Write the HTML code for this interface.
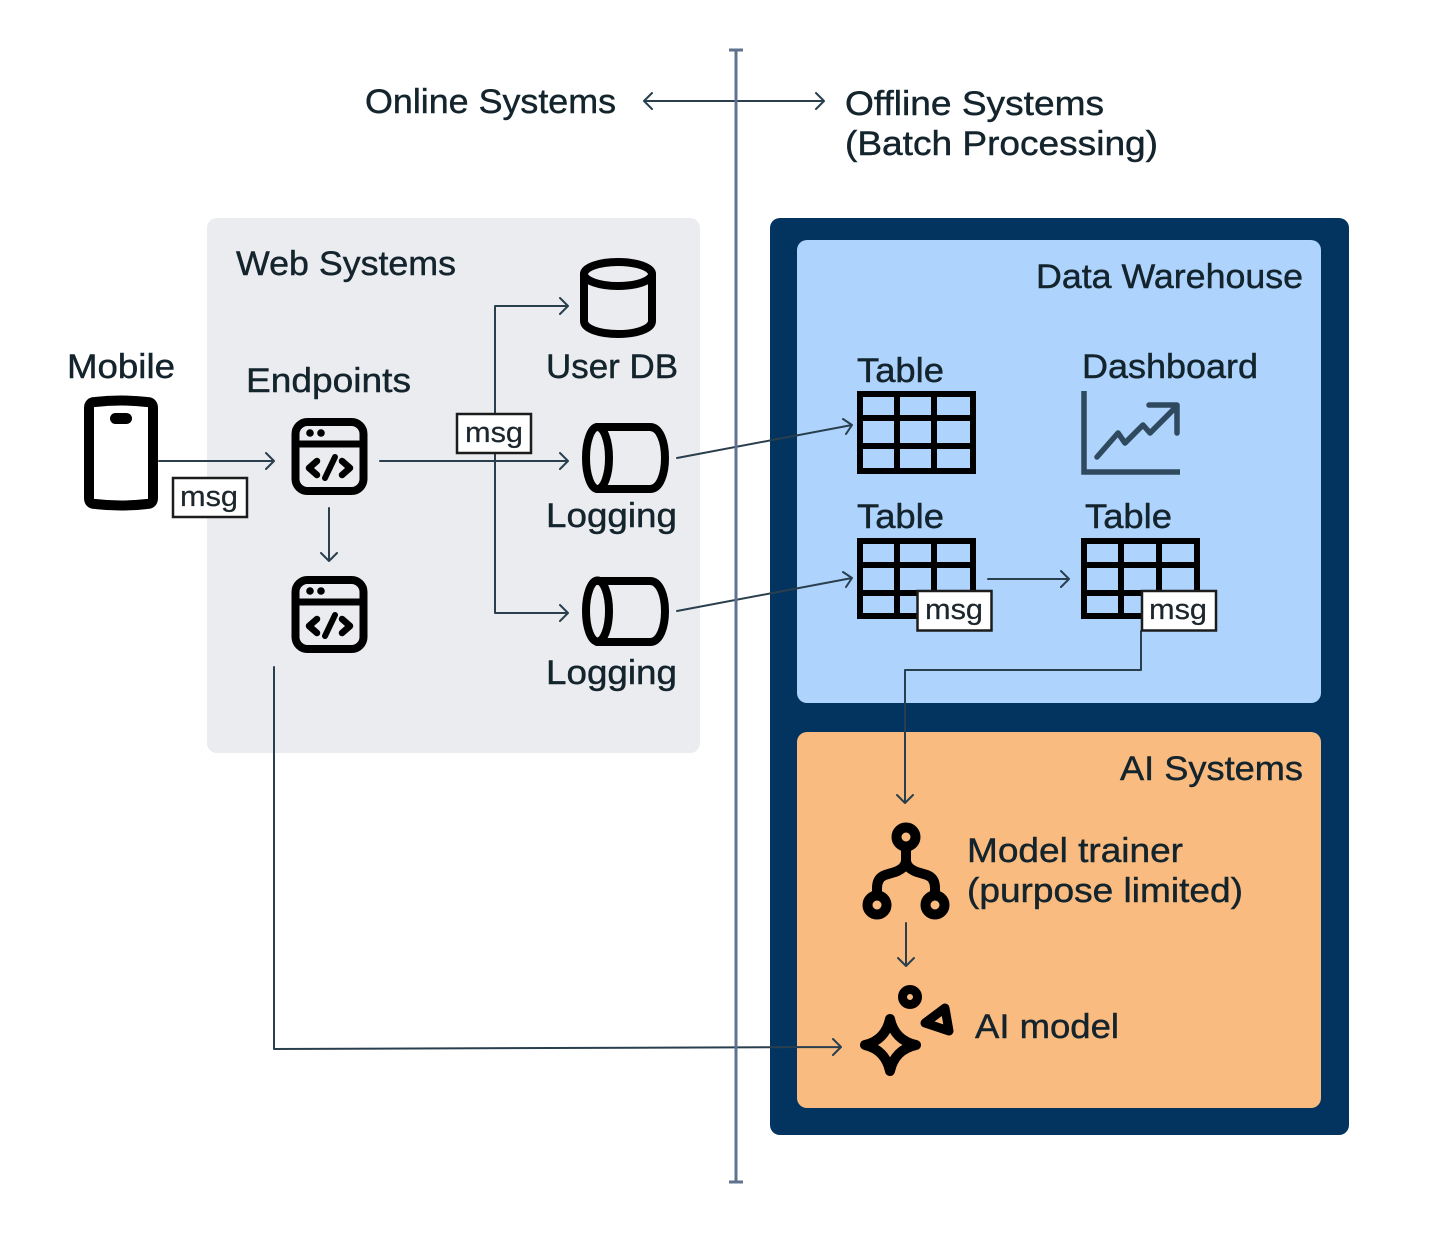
<!DOCTYPE html>
<html lang="en"><head><meta charset="utf-8"><title>Online and offline systems</title>
<style>
html,body{margin:0;padding:0;background:#fff}
svg{display:block}
text{font-family:"Liberation Sans",sans-serif;font-size:34px;fill:#14242d;stroke:#14242d;stroke-width:.45px}
.c{fill:none;stroke:#2a3f4e;stroke-width:2;stroke-linecap:round;stroke-linejoin:round}
.i{fill:none;stroke:#000;stroke-width:9;stroke-linejoin:round;stroke-linecap:round}
.g{fill:none;stroke:#000;stroke-width:6}
.m{fill:#fff;stroke:#1c1c1c;stroke-width:2.5}
.t{font-size:29px;fill:#1c262c;stroke:#1c262c;stroke-width:.25px}
</style></head><body>
<svg width="1456" height="1235" viewBox="0 0 1456 1235" xmlns="http://www.w3.org/2000/svg">
<rect width="1456" height="1235" fill="#fff"/>
<rect x="207" y="218" width="493" height="535" rx="10" fill="#ebecef"/>
<rect x="770" y="218" width="579" height="917" rx="10" fill="#03335f"/>
<rect x="797" y="240" width="524" height="463" rx="10" fill="#aed3fd"/>
<rect x="797" y="732" width="524" height="376" rx="10" fill="#f9bb80"/>

<text x="365" y="113" textLength="251" lengthAdjust="spacingAndGlyphs">Online Systems</text>
<text x="845" y="115" textLength="259" lengthAdjust="spacingAndGlyphs">Offline Systems</text>
<text x="845" y="155" textLength="313" lengthAdjust="spacingAndGlyphs">(Batch Processing)</text>
<text x="236" y="275" textLength="220" lengthAdjust="spacingAndGlyphs">Web Systems</text>
<text x="67" y="378" textLength="108" lengthAdjust="spacingAndGlyphs">Mobile</text>
<text x="246" y="392" textLength="165" lengthAdjust="spacingAndGlyphs">Endpoints</text>
<text x="546" y="378" textLength="132" lengthAdjust="spacingAndGlyphs">User DB</text>
<text x="546" y="527" textLength="131" lengthAdjust="spacingAndGlyphs">Logging</text>
<text x="546" y="684" textLength="131" lengthAdjust="spacingAndGlyphs">Logging</text>
<text x="1036" y="288" textLength="267" lengthAdjust="spacingAndGlyphs">Data Warehouse</text>
<text x="857" y="382" textLength="87" lengthAdjust="spacingAndGlyphs">Table</text>
<text x="1082" y="378" textLength="176" lengthAdjust="spacingAndGlyphs">Dashboard</text>
<text x="857" y="528" textLength="87" lengthAdjust="spacingAndGlyphs">Table</text>
<text x="1085" y="528" textLength="87" lengthAdjust="spacingAndGlyphs">Table</text>
<text x="1120" y="780" textLength="183" lengthAdjust="spacingAndGlyphs">AI Systems</text>
<text x="967" y="862" textLength="216" lengthAdjust="spacingAndGlyphs">Model trainer</text>
<text x="967" y="902" textLength="276" lengthAdjust="spacingAndGlyphs">(purpose limited)</text>
<text x="975" y="1038" textLength="144" lengthAdjust="spacingAndGlyphs">AI model</text>

<!-- connectors -->
<g class="c">
<path d="M644 101H824M652 93l-8 8 8 8M816 93l8 8-8 8"/>
<path d="M159 461H274M266 453l8 8-8 8"/>
<path d="M329 508V561M321 553l8 8 8-8"/>
<path d="M380 461H568M560 453l8 8-8 8"/>
<path d="M495 413V306H568M560 298l8 8-8 8"/>
<path d="M495 454V613H568M560 605l8 8-8 8"/>
<path d="M677 458L852 425M843 419l9 6-6 9"/>
<path d="M677 611L852 578M843 572l9 6-6 9"/>
<path d="M988 579H1069M1061 571l8 8-8 8"/>
<path d="M1141 631V670H905V803M897 795l8 8 8-8"/>
<path d="M906 923V966M898 958l8 8 8-8"/>
<path d="M274 667V1049L841 1047M833 1039l8 8-8 8"/>
</g>
<path d="M736 50V1182M729 50H743M729 1182H743" fill="none" stroke="#5f7390" stroke-width="3"/>

<!-- phone -->
<path d="M89 408Q89 402 95 402Q121 399 147 402Q153 402 153 408V498Q153 504 147 504Q121 507 95 504Q89 504 89 498Z" fill="#fff" stroke="#000" stroke-width="10" stroke-linejoin="round"/>
<rect x="110" y="413" width="22" height="11" rx="5.500" fill="#000"/>

<!-- endpoints -->
<g>
<rect x="295.500" y="422" width="68" height="69" rx="12" class="i" style="stroke-width:8"/>
<path d="M296 444H363" class="i" style="stroke-width:7;stroke-linecap:butt"/>
<circle cx="310" cy="433" r="3.800" fill="#000"/><circle cx="321" cy="433" r="3.800" fill="#000"/>
<path d="M317 461L309 468L317 475M342 461L350 468L342 475" class="i" style="stroke-width:6.500"/>
<path d="M335 457L325 478" class="i" style="stroke-width:6"/>
</g>
<g>
<rect x="295.500" y="580" width="68" height="69" rx="12" class="i" style="stroke-width:8"/>
<path d="M296 602H363" class="i" style="stroke-width:7;stroke-linecap:butt"/>
<circle cx="310" cy="591" r="3.800" fill="#000"/><circle cx="321" cy="591" r="3.800" fill="#000"/>
<path d="M317 619L309 626L317 633M342 619L350 626L342 633" class="i" style="stroke-width:6.500"/>
<path d="M335 615L325 636" class="i" style="stroke-width:6"/>
</g>

<!-- database -->
<g class="i" style="stroke-width:8">
<ellipse cx="618" cy="274" rx="34" ry="12"/>
<path d="M584 274V321C584 329 600 334 618 334C636 334 652 329 652 321V274"/>
</g>
<!-- logging -->
<g class="i" style="stroke-width:8">
<path d="M597 427H650C660 427 665 442 665 458C665 474 660 489 650 489H597"/>
<ellipse cx="597.500" cy="458" rx="11.500" ry="31"/>
<path d="M597 581H650C660 581 665 596 665 611C665 627 660 642 650 642H597"/>
<ellipse cx="597.500" cy="611" rx="11.500" ry="30.500"/>
</g>

<!-- tables -->
<path class="g" d="M860 394H973V471H860ZM897 394V471M934 394V471M860 418H973M860 446H973"/>
<path class="g" d="M860 541H973V616H860ZM897 541V616M934 541V616M860 565H973M860 593H973"/>
<path class="g" d="M1084 541H1197V616H1084ZM1121 541V616M1159 541V616M1084 565H1197M1084 593H1197"/>

<!-- dashboard -->
<path d="M1084 391V472H1180" fill="none" stroke="#2f4a5e" stroke-width="5.500"/>
<path d="M1097 457L1118 433L1125 443L1143 425L1150 433L1176 407M1149 405H1177V433" fill="none" stroke="#2f4a5e" stroke-width="5.500" stroke-linecap="round" stroke-linejoin="round"/>

<!-- msg labels -->
<rect x="173" y="478" width="74" height="39" class="m"/><text class="t" x="180" y="506" textLength="58" lengthAdjust="spacingAndGlyphs">msg</text>
<rect x="457" y="414" width="74" height="39" class="m"/><text class="t" x="465" y="442" textLength="58" lengthAdjust="spacingAndGlyphs">msg</text>
<rect x="917.500" y="591" width="74" height="39.500" class="m"/><text class="t" x="925" y="619" textLength="58" lengthAdjust="spacingAndGlyphs">msg</text>
<rect x="1142" y="591" width="74" height="39.500" class="m"/><text class="t" x="1149" y="619" textLength="58" lengthAdjust="spacingAndGlyphs">msg</text>

<!-- model tree -->
<g class="i" style="stroke-width:10">
<circle cx="906" cy="837" r="9.500"/><circle cx="877" cy="905" r="9.500"/><circle cx="935" cy="905" r="9.500"/>
<path d="M906 847V860Q906 868 895 872L885 875Q877 878 877 888V895M906 860Q906 868 917 872L927 875Q935 878 935 888V895"/>
</g>

<!-- AI model icon -->
<g class="i">
<circle cx="910" cy="997" r="7.500" style="stroke-width:9"/>
<path d="M945 1008L925 1023L949 1031Z" style="stroke-width:9"/>
<path d="M890 1019C893 1033 902 1042 916 1045C902 1048 893 1057 890 1071C887 1057 878 1048 865 1045C878 1042 887 1033 890 1019Z" style="stroke-width:10"/>
</g>
</svg>
</body></html>
